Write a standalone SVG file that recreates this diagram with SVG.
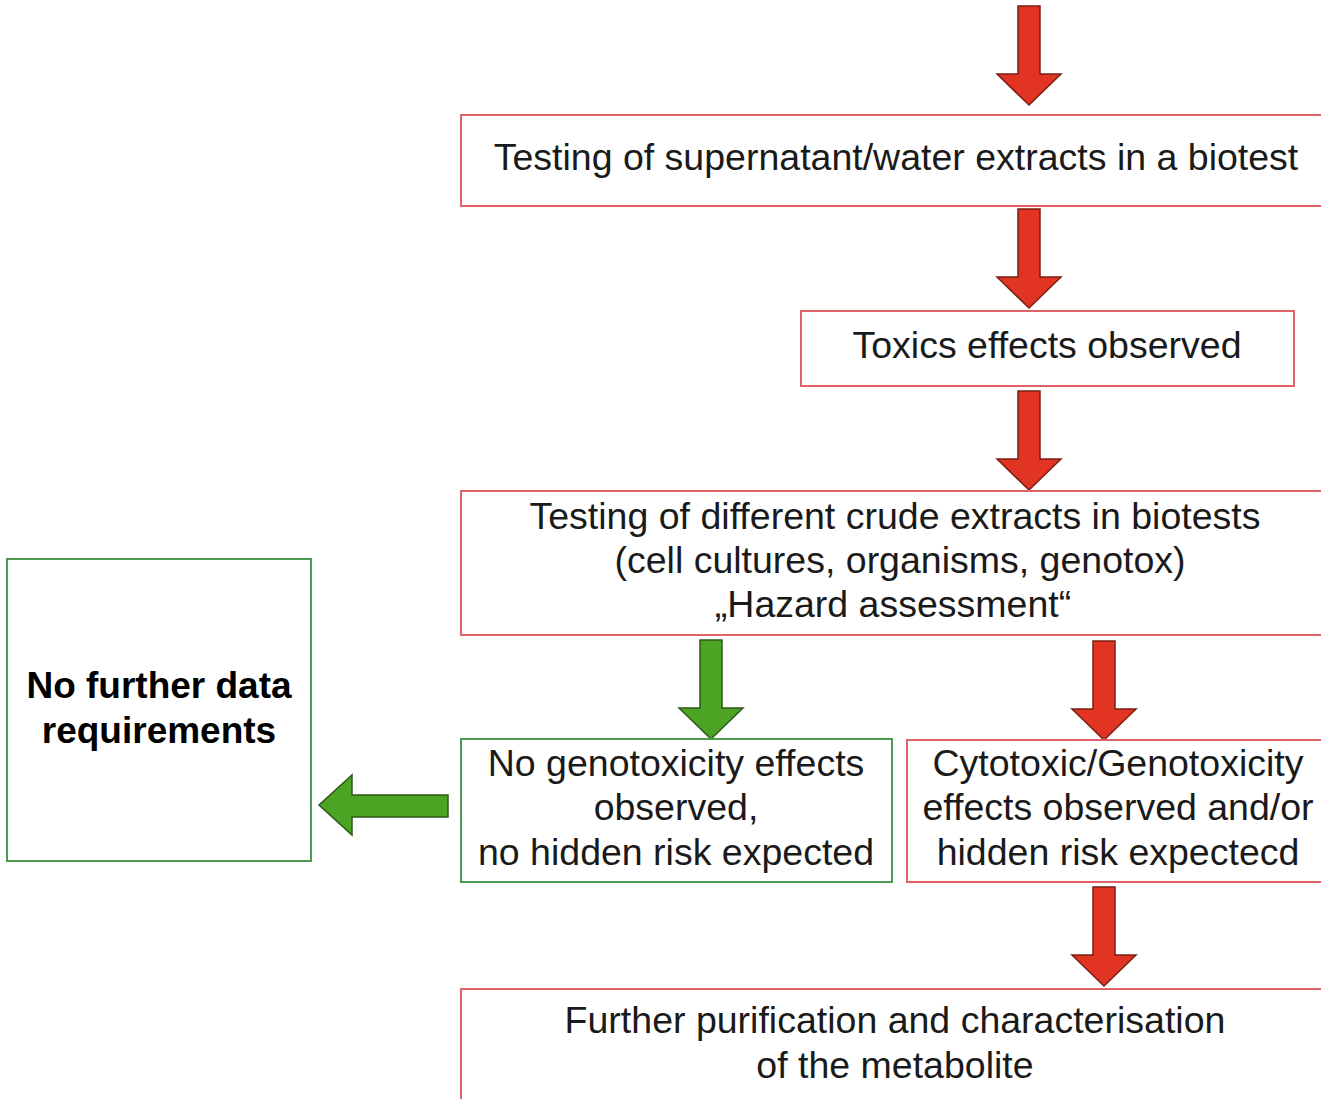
<svg xmlns="http://www.w3.org/2000/svg" width="1321" height="1099" viewBox="0 0 1321 1099">
<style>
.bg{fill:#ffffff}
.rbox{fill:#ffffff;stroke:#e0626a;stroke-width:2}
.gbox{fill:#ffffff;stroke:#4a9a50;stroke-width:2}
.t{font-family:"Liberation Sans",Arial,sans-serif;font-size:37.5px;fill:#1a1a1a;text-anchor:middle;dominant-baseline:central}
.b{font-weight:bold;fill:#000;font-size:37px}
.ra{fill:#e23422;stroke:#7a1e12;stroke-width:1.5;stroke-linejoin:miter}
.ga{fill:#4ca324;stroke:#2c5a16;stroke-width:1.5;stroke-linejoin:miter}
</style>
<defs>
<path id="down" d="M-11,0 H11 V68 H32 L0,99 L-32,68 H-11 Z"/>
</defs>
<rect class="bg" x="0" y="0" width="1321" height="1099"/>
<g id="connectors">
<use href="#down" class="ra" x="1029" y="6"/>
<use href="#down" class="ra" x="1029" y="209"/>
<use href="#down" class="ra" x="1029" y="391"/>
<use href="#down" class="ga" x="711" y="640"/>
<use href="#down" class="ra" x="1104" y="641"/>
<use href="#down" class="ra" x="1104" y="887"/>
<path class="ga" d="M448,795 V817 H352 V835 L319,805 L352,775 V795 Z"/>
</g>
<g id="n1">
<rect class="rbox" x="461" y="115" width="870" height="91"/>
<text class="t" x="896" y="157">Testing of supernatant/water extracts in a biotest</text>
</g>
<g id="n2">
<rect class="rbox" x="801" y="311" width="493" height="75"/>
<text class="t" x="1047" y="345">Toxics effects observed</text>
</g>
<g id="n3">
<rect class="rbox" x="461" y="491" width="870" height="144"/>
<text class="t" x="895" y="516">Testing of different crude extracts in biotests</text>
<text class="t" x="900" y="560">(cell cultures, organisms, genotox)</text>
<text class="t" x="893" y="604">„Hazard assessment“</text>
</g>
<g id="n4">
<rect class="gbox" x="461" y="739" width="431" height="143"/>
<text class="t" x="676" y="763">No genotoxicity effects</text>
<text class="t" x="676" y="807">observed,</text>
<text class="t" x="676" y="852">no hidden risk expected</text>
</g>
<g id="n5">
<rect class="rbox" x="907" y="740" width="420" height="142"/>
<text class="t" x="1118" y="763">Cytotoxic/Genotoxicity</text>
<text class="t" x="1118" y="807">effects observed and/or</text>
<text class="t" x="1118" y="852">hidden risk expectecd</text>
</g>
<g id="n6">
<rect class="gbox" x="7" y="559" width="304" height="302"/>
<text class="t b" x="159" y="685">No further data</text>
<text class="t b" x="159" y="730">requirements</text>
</g>
<g id="n7">
<rect class="rbox" x="461" y="989" width="870" height="120"/>
<text class="t" x="895" y="1020">Further purification and characterisation</text>
<text class="t" x="895" y="1065">of the metabolite</text>
</g>
</svg>
